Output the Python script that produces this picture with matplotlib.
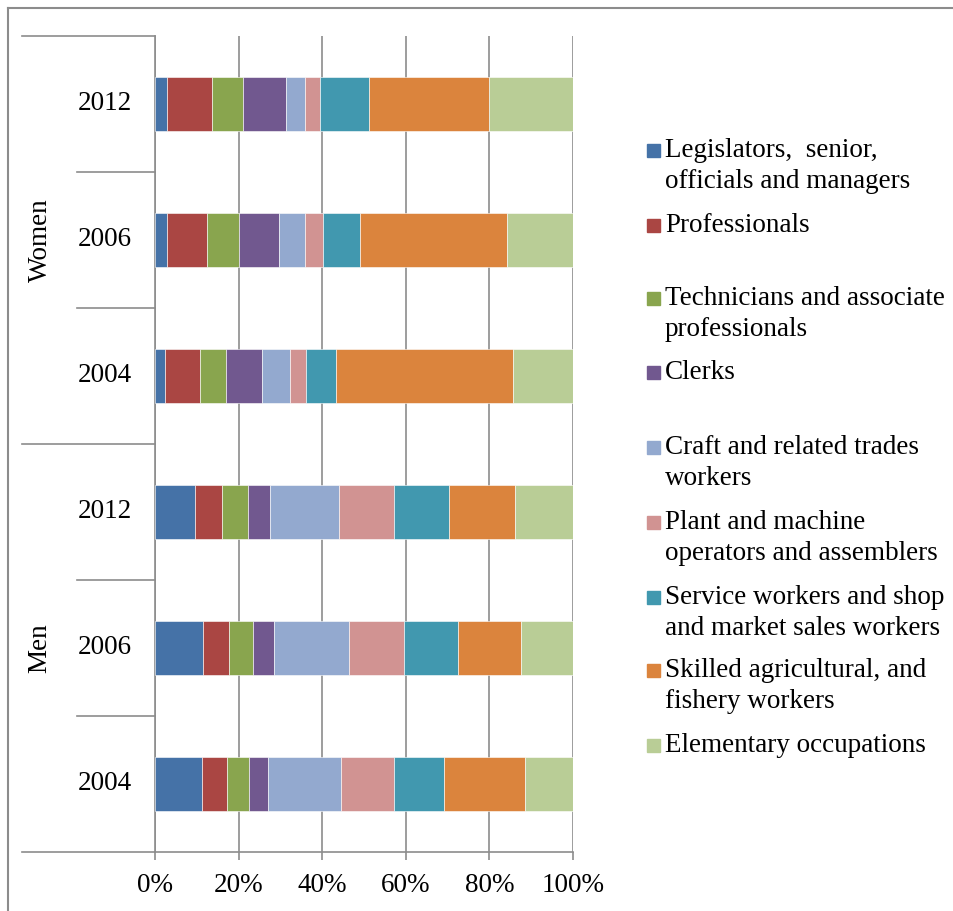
import numpy as np
import matplotlib.pyplot as plt
from matplotlib.patches import Rectangle
from matplotlib.lines import Line2D

plt.rcParams['font.family'] = ['Liberation Serif', 'DejaVu Serif']

# categories from bottom to top
groups = ['Men', 'Women']
years = ['2004', '2006', '2012']

occupations = ['Legislators,  senior,\nofficials and managers',
               'Professionals',
               'Technicians and associate\nprofessionals',
               'Clerks',
               'Craft and related trades\nworkers',
               'Plant and machine\noperators and assemblers',
               'Service workers and shop\nand market sales workers',
               'Skilled agricultural, and\nfishery workers',
               'Elementary occupations']

# share of employment (%), order: Men 2004, 2006, 2012, Women 2004, 2006, 2012
legislators  = [11.3, 11.6,  9.5,  2.5,  2.9,  2.9]
professionals = [6.0,  6.0,  6.6,  8.3,  9.6, 10.7]
technicians  = [5.2,  5.9,  6.1,  6.3,  7.7,  7.4]
clerks       = [4.5,  5.0,  5.3,  8.4,  9.5, 10.4]
craft        = [17.6, 18.0, 16.6,  6.7,  6.3,  4.6]
plant        = [12.5, 13.1, 13.1,  3.9,  4.1,  3.4]
service      = [12.0, 12.8, 13.2,  7.1,  9.0, 11.9]
skilled      = [19.4, 15.2, 15.8, 42.4, 35.1, 28.7]
elementary   = [11.5, 12.4, 13.8, 14.4, 15.8, 20.0]

colors = ['#4572A7', '#AA4643', '#89A54E', '#71588F', '#93A9CF',
          '#D19392', '#4198AF', '#DB843D', '#B9CD96']

series = [legislators, professionals, technicians, clerks, craft,
          plant, service, skilled, elementary]

W, H = 954, 911
fig = plt.figure(figsize=(W / 100, H / 100), dpi=100)
ax = fig.add_axes([155 / W, 1 - 852 / H, 418 / W, 816 / H])

grey = '#8c8c8c'
fs = 19.5

y = np.arange(len(groups) * len(years))
left = np.zeros(len(y))
for vals, col in zip(series, colors):
    vals = np.array(vals)
    ax.barh(y, vals, left=left, height=0.4, color=col,
            edgecolor='white', linewidth=0.4, zorder=3)
    left += vals

ax.set_xlim(0, 100)
ax.set_ylim(-0.5, len(y) - 0.5)
ax.set_xticks(np.arange(0, 101, 20))
ax.set_xticklabels(['%d%%' % v for v in range(0, 101, 20)], fontsize=fs)
ax.tick_params(axis='x', length=6, width=1.2, color=grey, pad=9)
ax.set_yticks([])
ax.grid(axis='x', color=grey, linewidth=1.2, zorder=0)
for s in ['top', 'right']:
    ax.spines[s].set_visible(False)
for s in ['left', 'bottom']:
    ax.spines[s].set_color(grey)
    ax.spines[s].set_linewidth(1.2)

# two-level category axis
tr = ax.get_yaxis_transform()
x_year = (77 - 155) / 418
x_group = (22 - 155) / 418
for k in range(len(y) + 1):
    b = k - 0.5
    x0 = x_group if k % len(years) == 0 else x_year
    ax.add_line(Line2D([x0, 0], [b, b], transform=tr, color=grey,
                       linewidth=1.2, clip_on=False))
for i in range(len(y)):
    ax.text(-0.12, i, years[i % len(years)], transform=tr, fontsize=fs,
            ha='center', va='center')
for g, name in enumerate(groups):
    ax.text(-0.275, g * len(years) + 1, name, transform=tr, fontsize=fs,
            ha='center', va='center', rotation=90)

# legend
leg_y = [150, 225, 298, 372, 447, 522, 597, 670, 745]
for name, col, yy in zip(occupations, colors, leg_y):
    fig.patches.append(Rectangle((647 / W, 1 - (yy + 7) / H), 13 / W, 13 / H,
                                 transform=fig.transFigure, color=col))
    fig.text(665 / W, 1 - (yy - 12) / H, name, fontsize=fs, va='top',
             ha='left', linespacing=1.3)

# outer frame
fig.add_artist(Line2D([8 / W, 8 / W], [0, 1 - 8 / H], color=grey, linewidth=1.5))
fig.add_artist(Line2D([8 / W, 1], [1 - 8 / H, 1 - 8 / H], color=grey, linewidth=1.5))

fig.savefig('out.png', dpi=100)
